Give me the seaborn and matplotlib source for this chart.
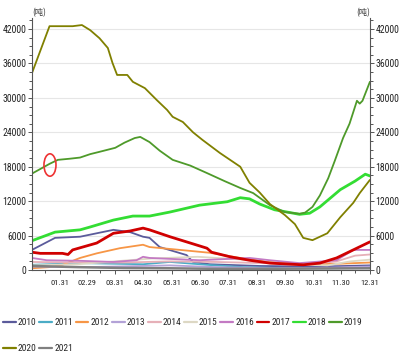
import numpy as np
import pandas as pd
import seaborn as sns
import matplotlib
matplotlib.use("Agg")
import matplotlib.pyplot as plt
from matplotlib.patches import Ellipse
from matplotlib import font_manager

years = ["2010", "2011", "2012", "2013", "2014", "2015", "2016", "2017", "2018", "2019", "2020", "2021"]

d_2010 = [1, 26, 53, 71, 89, 107, 121, 128, 139, 168, 175, 193, 247, 312, 366]
v_2010 = [3500, 5600, 5800, 6400, 7000, 6600, 5800, 5600, 4000, 2600, 1400, 1000, 700, 600, 800]
d_2011 = [1, 53, 121, 150, 190, 230, 280, 320, 366]
v_2011 = [900, 1200, 1000, 1400, 900, 500, 300, 300, 400]
d_2012 = [1, 20, 34, 53, 71, 96, 121, 128, 161, 193, 226, 255, 290, 334, 366]
v_2012 = [300, 500, 900, 2100, 2900, 3800, 4400, 4000, 3500, 3000, 2100, 1400, 1000, 1100, 1300]
d_2013 = [1, 60, 120, 150, 200, 260, 320, 366]
v_2013 = [600, 500, 700, 800, 500, 300, 400, 600]
d_2014 = [1, 50, 100, 150, 200, 250, 300, 330, 350, 366]
v_2014 = [1400, 1300, 1300, 1500, 1400, 1200, 1000, 1500, 2500, 2700]
d_2015 = [1, 50, 90, 130, 180, 230, 270, 320, 345, 366]
v_2015 = [800, 1000, 1500, 2000, 2300, 1800, 1000, 800, 1500, 1800]
d_2016 = [1, 17, 53, 89, 114, 121, 128, 182, 236, 258, 290, 330, 348, 366]
v_2016 = [2100, 1700, 1600, 1400, 1700, 2300, 2100, 1700, 2100, 1700, 1200, 1700, 3500, 3500]
d_2017 = [1, 10, 34, 40, 45, 71, 89, 107, 121, 128, 150, 172, 190, 195, 215, 236, 258, 294, 312, 330, 348, 366]
v_2017 = [3100, 2900, 2900, 2700, 3500, 4700, 6400, 6800, 7300, 7000, 5800, 4700, 3800, 3100, 2300, 1700, 1200, 900, 1200, 2100, 3500, 4900]
d_2018 = [1, 26, 53, 64, 89, 110, 128, 150, 182, 212, 226, 236, 247, 263, 280, 290, 301, 312, 323, 334, 350, 361, 366]
v_2018 = [5100, 6600, 7000, 7500, 8700, 9400, 9400, 10100, 11300, 11900, 12600, 12400, 11500, 10500, 10000, 9700, 9900, 11000, 12500, 14000, 15500, 16700, 16400]
d_2019 = [1, 10, 20, 29, 42, 53, 64, 74, 91, 101, 112, 118, 128, 139, 153, 172, 190, 209, 226, 240, 258, 274, 290, 296, 304, 312, 321, 328, 337, 344, 352, 355, 358, 366]
v_2019 = [16800, 17600, 18500, 19200, 19400, 19600, 20200, 20600, 21300, 22200, 23000, 23200, 22300, 20800, 19200, 18200, 16900, 15500, 14300, 13400, 11300, 10100, 9800, 10000, 11000, 13000, 16000, 19000, 23000, 25500, 29500, 29000, 29500, 32800]
d_2020 = [1, 20, 45, 55, 64, 74, 83, 88, 93, 104, 110, 123, 136, 147, 153, 164, 175, 185, 204, 226, 236, 247, 258, 274, 285, 294, 304, 320, 334, 348, 355, 366]
v_2020 = [34300, 42500, 42500, 42700, 41800, 40400, 38700, 36100, 34000, 34000, 32800, 31700, 29600, 27900, 26700, 25800, 24000, 22700, 20400, 18000, 15200, 13500, 11500, 9600, 8000, 5600, 5200, 6400, 9200, 11700, 13400, 15700]
d_2021 = [1, 50, 100, 150, 200, 250, 300, 366]
v_2021 = [700, 500, 350, 300, 200, 200, 250, 300]

days = [d_2010, d_2011, d_2012, d_2013, d_2014, d_2015, d_2016, d_2017, d_2018, d_2019, d_2020, d_2021]
vals = [v_2010, v_2011, v_2012, v_2013, v_2014, v_2015, v_2016, v_2017, v_2018, v_2019, v_2020, v_2021]

tick_days = [31, 60, 91, 121, 152, 182, 213, 244, 274, 305, 335, 366]
tick_labels = ["01.31", "02.29", "03.31", "04.30", "05.31", "06.30", "07.31", "08.31", "09.30", "10.31", "11.30", "12.31"]
y_ticks = [0, 6000, 12000, 18000, 24000, 30000, 36000, 42000]

colors = ["#5b5b9b", "#4bacc6", "#f79646", "#b3a2d7", "#e6b0b8", "#ddd8c4", "#c37ac3",
          "#d00000", "#33dd33", "#4e9a2a", "#808000", "#808080"]
widths = [1.3, 1.3, 1.3, 1.3, 1.3, 1.3, 1.3, 2.0, 2.0, 1.3, 1.3, 1.8]

rows = []
for y, dd, vv in zip(years, days, vals):
    for d, v in zip(dd, vv):
        rows.append({"year": y, "day": d, "value": v})
df = pd.DataFrame(rows)

sns.set_theme(style="white")
names = {f.name for f in font_manager.fontManager.ttflist}
cands = ["Liberation Sans Narrow", "Arial Narrow", "DejaVu Sans Condensed", "Roboto Condensed",
         "Open Sans Condensed", "Noto Sans Condensed"]
base = next((c for c in cands if c in names), "DejaVu Sans")
plt.rcParams["font.family"] = [base, "Noto Sans CJK SC", "DejaVu Sans"]
plt.rcParams["font.stretch"] = "condensed"

fig = plt.figure(figsize=(4.04, 3.56), dpi=100)
ax = fig.add_axes([0.079, 0.2416, 0.8366, 0.709])

palette = dict(zip(years, colors))
for y, w in zip(years, widths):
    sns.lineplot(data=df[df["year"] == y], x="day", y="value", color=palette[y],
                 lw=w, ax=ax, label=y, estimator=None, sort=False)

ax.set_xlim(1, 366)
ax.set_ylim(0, 44000)
ax.set_yticks(y_ticks)
ax.set_yticklabels([str(t) for t in y_ticks], fontsize=7)
ax.set_yticks(np.arange(0, 44000, 1500), minor=True)
ax.set_xticks(tick_days)
ax.set_xticklabels(tick_labels, fontsize=6)
ax.set_xticks([15, 45, 75, 106, 136, 167, 197, 228, 259, 289, 320, 350], minor=True)
ax.set_xlabel("")
ax.set_ylabel("")
ax.grid(axis="y", color="#e6e6e6", lw=0.8)
ax.set_axisbelow(True)
for s in ["top", "right"]:
    ax.spines[s].set_visible(False)
for s in ["left", "bottom"]:
    ax.spines[s].set_color("#555555")
    ax.spines[s].set_linewidth(0.8)
ax.tick_params(axis="both", which="both", direction="out", color="#555555", length=3, width=0.7,
               left=True, bottom=True, pad=1, labelcolor="#222222")
ax.tick_params(axis="x", which="major", pad=4)
ax.tick_params(axis="both", which="minor", length=2)

ax2 = ax.twinx()
ax2.set_ylim(0, 44000)
ax2.set_yticks(y_ticks)
ax2.set_yticklabels([str(t) for t in y_ticks], fontsize=7)
ax2.set_yticks(np.arange(0, 44000, 1500), minor=True)
for s in ["top", "left", "bottom"]:
    ax2.spines[s].set_visible(False)
ax2.spines["right"].set_color("#555555")
ax2.spines["right"].set_linewidth(0.8)
ax2.tick_params(axis="y", which="both", direction="out", color="#555555", length=3, width=0.7,
                right=True, pad=1, labelcolor="#222222")
ax2.tick_params(axis="y", which="minor", length=2)
ax2.grid(False)

ax.text(0.0, 1.0, "(吨)", transform=ax.transAxes, fontsize=6, ha="left", va="bottom",
        family=["Noto Sans CJK SC", "DejaVu Sans"], color="#333333")
ax.text(1.0, 1.0, "(吨)", transform=ax.transAxes, fontsize=6, ha="right", va="bottom",
        family=["Noto Sans CJK SC", "DejaVu Sans"], color="#333333")

ax.add_patch(Ellipse((20.5, 18300), 13, 3900, fill=False, edgecolor="#ee3333", lw=1.2, zorder=5))

handles, labels = ax.get_legend_handles_labels()
ax.get_legend().remove()
hmap = dict(zip(labels, handles))
order = ["2010", "2020", "2011", "2021", "2012", "2013", "2014", "2015", "2016", "2017", "2018", "2019"]
leg = fig.legend([hmap[k] for k in order], order, loc="upper left", bbox_to_anchor=(0.008, 0.107),
                 ncol=10, frameon=False, fontsize=6.8, handlelength=1.35, handletextpad=0.2,
                 columnspacing=0.3, borderaxespad=0, labelspacing=1.85, borderpad=0)
for line in leg.get_lines():
    line.set_linewidth(1.6)

fig.savefig("out.png", dpi=100)
